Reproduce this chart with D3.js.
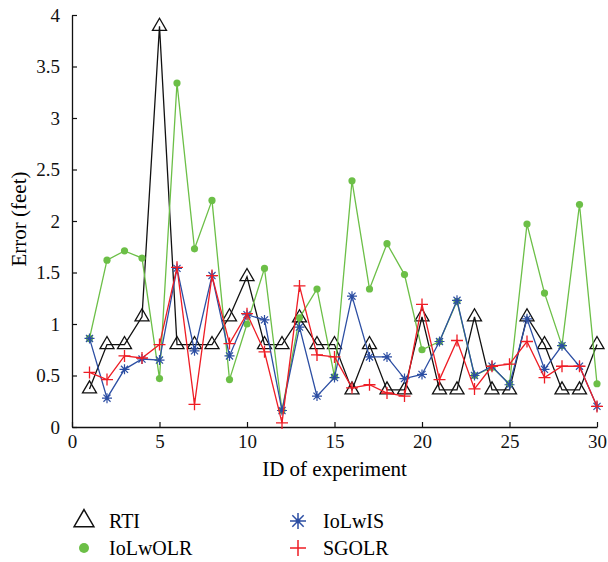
<!DOCTYPE html>
<html>
<head>
<meta charset="utf-8">
<script src="https://cdn.jsdelivr.net/npm/d3@7"></script>
<style>
  body { margin: 0; background: #fff; }
</style>
</head>
<body>
<svg id="chart"></svg>
<script>
// values
const ids = [1,2,3,4,5,6,7,8,9,10,11,12,13,14,15,16,17,18,19,20,21,22,23,24,25,26,27,28,29,30];
const rti = [0.37,0.80,0.80,1.07,3.89,0.80,0.80,0.80,1.07,1.46,0.80,0.80,1.06,0.80,0.80,0.36,0.80,0.36,0.36,1.07,0.36,0.36,1.07,0.36,0.36,1.07,0.80,0.36,0.36,0.80];
const iolwolr = [0.86,1.62,1.71,1.64,0.47,3.34,1.73,2.20,0.46,1.00,1.54,0.16,1.06,1.34,0.49,2.39,1.34,1.78,1.48,0.75,0.83,1.22,0.50,0.58,0.42,1.97,1.30,0.79,2.16,0.42];
const iolwis = [0.86,0.28,0.56,0.66,0.65,1.54,0.74,1.47,0.69,1.09,1.04,0.16,0.97,0.30,0.48,1.27,0.68,0.68,0.47,0.51,0.83,1.23,0.50,0.59,0.41,1.05,0.56,0.79,0.59,0.20];
const sgolr = [0.53,0.46,0.69,0.67,0.80,1.55,0.22,1.47,0.81,1.10,0.73,0.04,1.37,0.70,0.68,0.38,0.41,0.33,0.30,1.19,0.46,0.84,0.37,0.59,0.61,0.83,0.48,0.59,0.59,0.20];
const xTicks = [0,5,10,15,20,25,30];
const yTicks = [0,0.5,1,1.5,2,2.5,3,3.5,4];

const width = 608, height = 562;
const serif = "Liberation Serif";
const svg = d3.select("#chart").attr("width", width).attr("height", height);

const xScale = d3.scaleLinear().domain([0, 30]).range([72, 597]);
const yScale = d3.scaleLinear().domain([0, 4]).range([427, 15]);

// axes, ticks point inward
const xAxis = svg.append("g")
  .attr("transform", "translate(0," + yScale(0) + ")")
  .call(d3.axisBottom(xScale).tickValues(xTicks).tickFormat(d3.format("d"))
    .tickSizeInner(-5).tickSizeOuter(0).tickPadding(8));
const yAxis = svg.append("g")
  .attr("transform", "translate(" + xScale(0) + ",0)")
  .call(d3.axisLeft(yScale).tickValues(yTicks).tickFormat(d => d)
    .tickSizeInner(-5).tickSizeOuter(0).tickPadding(12));

[xAxis, yAxis].forEach(a => {
  a.attr("font-family", null).attr("font-size", null);
  a.select(".domain").attr("stroke", "#111").attr("stroke-width", 1.3);
  a.selectAll(".tick line").attr("stroke", "#111").attr("stroke-width", 1.2);
  a.selectAll(".tick text").attr("fill", "#111")
    .style("font-family", serif).style("font-size", "19px");
});

// axis labels
svg.append("text")
  .attr("x", (xScale(0) + xScale(30)) / 2)
  .attr("y", 476)
  .style("text-anchor", "middle")
  .style("font-family", serif)
  .style("font-size", "21px")
  .text("ID of experiment");

svg.append("text")
  .attr("transform", "rotate(-90)")
  .attr("x", -219)
  .attr("y", 26)
  .style("text-anchor", "middle")
  .style("font-family", serif)
  .style("font-size", "21px")
  .text("Error (feet)");

const line = d3.line()
  .x((d, i) => xScale(ids[i]))
  .y(d => yScale(d));

const colors = { RTI: "#111111", IoLwOLR: "#6cbf47", IoLwIS: "#2c4ea3", SGOLR: "#ee1d25" };

// marker drawers
function drawTriangle(g, size, sw) {
  g.append("path")
    .attr("d", d3.symbol().type(d3.symbolTriangle).size(size)())
    .attr("fill", "none")
    .attr("stroke", colors.RTI)
    .attr("stroke-width", sw);
}
function drawDot(g, r) {
  g.append("circle").attr("r", r).attr("fill", colors.IoLwOLR);
}
function drawStar(g, s, sw) {
  const d = s * 0.71;
  g.append("path")
    .attr("d", `M${-s},0L${s},0M0,${-s}L0,${s}M${-d},${-d}L${d},${d}M${-d},${d}L${d},${-d}`)
    .attr("stroke", colors.IoLwIS)
    .attr("stroke-width", sw)
    .attr("fill", "none");
  g.append("circle").attr("r", s * 0.3).attr("fill", colors.IoLwIS);
}
function drawPlus(g, s, sw) {
  g.append("path")
    .attr("d", `M${-s},0L${s},0M0,${-s}L0,${s}`)
    .attr("stroke", colors.SGOLR)
    .attr("stroke-width", sw)
    .attr("fill", "none");
}

const series = [
  { name: "RTI", values: rti, marker: g => drawTriangle(g, 85, 1.3) },
  { name: "IoLwOLR", values: iolwolr, marker: g => drawDot(g, 3.6) },
  { name: "IoLwIS", values: iolwis, marker: g => drawStar(g, 5, 1.2) },
  { name: "SGOLR", values: sgolr, marker: g => drawPlus(g, 6, 1.3) }
];

series.forEach(s => {
  svg.append("path")
    .datum(s.values)
    .attr("fill", "none")
    .attr("stroke", colors[s.name])
    .attr("stroke-width", 1.3)
    .attr("d", line);

  svg.append("g")
    .selectAll("g")
    .data(s.values)
    .enter()
    .append("g")
    .attr("transform", (d, i) => "translate(" + xScale(ids[i]) + "," + yScale(d) + ")")
    .each(function () { s.marker(d3.select(this)); });
});

// legend
const legendPos = [
  { name: "RTI", x: 84, y: 521, draw: g => drawTriangle(g, 170, 1.5) },
  { name: "IoLwOLR", x: 84, y: 548, draw: g => drawDot(g, 5) },
  { name: "IoLwIS", x: 298, y: 521, draw: g => drawStar(g, 8, 1.5) },
  { name: "SGOLR", x: 298, y: 548, draw: g => drawPlus(g, 8, 1.5) }
];

const legend = svg.append("g").attr("class", "legend");
const legendItems = legend.selectAll("g")
  .data(legendPos)
  .enter()
  .append("g")
  .attr("transform", d => `translate(${d.x}, ${d.y})`);

legendItems.each(function (d) { d.draw(d3.select(this)); });

legendItems.append("text")
  .attr("x", 25)
  .attr("y", 7)
  .style("font-family", serif)
  .style("font-size", "20px")
  .text(d => d.name);
</script>
</body>
</html>
